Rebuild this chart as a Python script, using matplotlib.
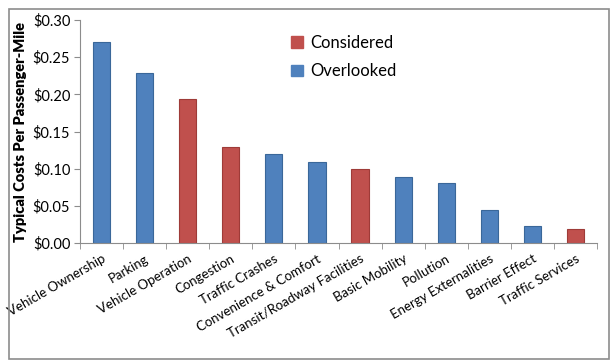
import matplotlib
matplotlib.use("Agg")
import matplotlib.pyplot as plt
from matplotlib.patches import Rectangle, Patch
from matplotlib.ticker import FuncFormatter, FixedLocator

categories = ["Vehicle Ownership", "Parking", "Vehicle Operation", "Congestion",
              "Traffic Crashes", "Convenience & Comfort", "Transit/Roadway Facilities",
              "Basic Mobility", "Pollution", "Energy Externalities", "Barrier Effect",
              "Traffic Services"]
values = [0.271, 0.229, 0.194, 0.129, 0.120, 0.109, 0.100, 0.089, 0.081, 0.045, 0.023, 0.019]
status = ["Overlooked", "Overlooked", "Considered", "Considered", "Overlooked", "Overlooked",
          "Considered", "Overlooked", "Overlooked", "Overlooked", "Overlooked", "Considered"]
yticks = [0.0, 0.05, 0.10, 0.15, 0.20, 0.25, 0.30]

fill = {"Considered": "#C0504D", "Overlooked": "#4F81BD"}
edge = {"Considered": "#9E3B38", "Overlooked": "#3A6799"}

plt.rcParams['font.family'] = ['Lato', 'DejaVu Sans']

fig = plt.figure(figsize=(6.16, 3.61), dpi=100)
fig.patches.append(Rectangle((9/616, 1 - 359/361), 600/616, 350/361, transform=fig.transFigure,
                             fill=False, edgecolor="#8C8C8C", linewidth=1.2))
ax = fig.add_axes([80/616, 1 - 243/361, 517/616, 223/361])

x = list(range(len(categories)))
ax.bar(x, values, width=0.4, color=[fill[s] for s in status],
       edgecolor=[edge[s] for s in status], linewidth=0.8)

ax.set_xlim(-0.5, len(categories) - 0.5)
ax.set_ylim(0, 0.30)
ax.set_yticks(yticks)
ax.yaxis.set_major_formatter(FuncFormatter(lambda v, p: f"${v:.2f}"))
ax.set_xticks(x)
ax.set_xticklabels(categories, rotation=30, ha='right', rotation_mode='anchor', fontsize=9.5)
ax.xaxis.set_minor_locator(FixedLocator([i - 0.5 for i in range(len(categories) + 1)]))
ax.tick_params(axis='x', which='major', length=0, pad=7)
ax.tick_params(axis='x', which='minor', length=4, color="#8C8C8C", direction='out')
ax.tick_params(axis='y', length=4, color="#8C8C8C", direction='out', labelsize=10.5, pad=3)

for s in ['top', 'right']:
    ax.spines[s].set_visible(False)
for s in ['left', 'bottom']:
    ax.spines[s].set_color("#8C8C8C")

ax.set_ylabel("Typical Costs Per Passenger-Mile", fontsize=10.5, fontweight='heavy', labelpad=4)

handles = [Patch(facecolor=fill["Considered"], edgecolor=fill["Considered"]),
           Patch(facecolor=fill["Overlooked"], edgecolor=fill["Overlooked"])]
ax.legend(handles, ["Considered", "Overlooked"], loc='upper left',
          bbox_to_anchor=(0.38, 1.0), frameon=False, fontsize=12,
          handlelength=0.7, handleheight=0.7, handletextpad=0.4, labelspacing=0.75)

fig.savefig("out.png", dpi=100)
